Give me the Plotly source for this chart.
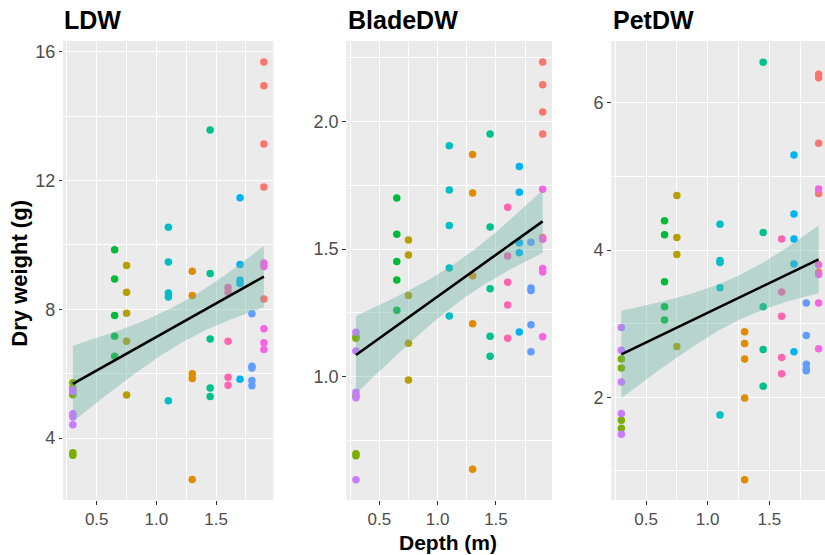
import numpy as np
import plotly.graph_objects as go

# ---------------- data ----------------
panels = ["LDW", "BladeDW", "PetDW"]

group_names = ["g01", "g02", "g03", "g04", "g05", "g06", "g07", "g08", "g09", "g10", "g11", "g12"]
group_depth = [1.9, 1.3, 0.75, 0.3, 0.65, 1.45, 1.1, 1.7, 1.8, 0.3, 1.9, 1.6]
group_colors = ["#F8766D", "#DE8C00", "#B79F00", "#7CAE00", "#00BA38", "#00C08B",
                "#00BFC4", "#00B4F0", "#619CFF", "#C77CFF", "#F564E3", "#FF64B0"]

ldw = [
    [15.68, 14.94, 13.13, 11.80, 8.32],
    [9.18, 8.43, 6.00, 5.85, 2.72],
    [9.36, 8.53, 7.88, 7.01, 5.34],
    [5.72, 5.55, 5.35, 3.55, 3.47],
    [9.85, 8.94, 7.81, 7.16, 6.54],
    [13.57, 9.11, 7.08, 5.56, 5.29],
    [10.55, 9.47, 8.51, 8.38, 5.16],
    [11.46, 9.39, 8.90, 8.80, 5.83],
    [7.86, 6.23, 6.18, 5.79, 5.63],
    [5.50, 5.45, 4.76, 4.66, 4.42],
    [9.44, 9.33, 7.40, 6.96, 6.75],
    [8.68, 8.53, 7.01, 5.89, 5.64],
]
bladedw = [
    [2.234, 2.144, 2.038, 1.951, 1.545],
    [1.871, 1.720, 1.395, 1.207, 0.637],
    [1.536, 1.477, 1.318, 1.131, 0.987],
    [1.157, 1.150, 0.925, 0.697, 0.690],
    [1.700, 1.558, 1.451, 1.379, 1.260],
    [1.951, 1.587, 1.344, 1.158, 1.080],
    [1.905, 1.732, 1.592, 1.426, 1.238],
    [1.824, 1.723, 1.525, 1.486, 1.175],
    [1.527, 1.347, 1.338, 1.203, 1.097],
    [1.174, 1.100, 0.939, 0.917, 0.595],
    [1.735, 1.539, 1.424, 1.410, 1.156],
    [1.664, 1.473, 1.370, 1.281, 1.150],
]
petdw = [
    [6.39, 6.34, 5.45, 4.77, 3.70],
    [2.89, 2.73, 2.52, 1.99, 0.88],
    [4.74, 4.17, 3.94, 2.69],
    [2.52, 2.40, 1.69, 1.58],
    [4.40, 4.21, 3.57, 3.23, 3.05],
    [6.55, 4.24, 3.23, 2.65, 2.15],
    [4.35, 3.86, 3.83, 3.49, 1.76],
    [5.29, 4.49, 4.15, 3.81, 2.62],
    [3.28, 2.84, 2.45, 2.39, 2.36],
    [2.95, 2.64, 2.21, 1.78, 1.50],
    [4.83, 3.80, 3.67, 3.28, 2.66],
    [4.15, 3.43, 3.10, 2.54, 2.32],
]
panel_values = [ldw, bladedw, petdw]

x_ticks = [0.5, 1.0, 1.5]
x_tick_labels = ["0.5", "1.0", "1.5"]
y_ticks = [[4, 8, 12, 16], [1.0, 1.5, 2.0], [2, 4, 6]]
y_tick_labels = [["4", "8", "12", "16"], ["1.0", "1.5", "2.0"], ["2", "4", "6"]]
y_minor = [2, 0.25, 1]

# ---------------- layout constants ----------------
W, H = 825, 555
panel_x_px = [(63.3, 273.3), (346.6, 552.0), (611.5, 825.0)]
px_per_unit = [119.4, 116.7, 123.3]
panel_top_px, panel_bot_px = 41, 500
y_ranges = [[2.08, 16.33], [0.516, 2.316], [0.606, 6.84]]

fig = go.Figure()
font_fam = "Liberation Sans, Arial, sans-serif"
ytick_font = dict(family=font_fam, size=18, color="#4D4D4D")
xtick_font = dict(family=font_fam, size=17, color="#4D4D4D")
ribbon_fill = "rgba(105,179,162,0.40)"

layout_axes = {}
annotations = []
for i, name in enumerate(panels):
    sfx = "" if i == 0 else str(i + 1)
    xa, ya = "x" + sfx, "y" + sfx
    vals = panel_values[i]
    allx, ally = [], []
    for g in range(len(group_names)):
        ys = vals[g]
        xs = [group_depth[g]] * len(ys)
        allx += xs
        ally += ys
        fig.add_trace(go.Scatter(
            x=xs, y=ys, mode="markers", xaxis=xa, yaxis=ya,
            marker=dict(size=7.5, color=group_colors[g], line=dict(width=0)),
            showlegend=False, hoverinfo="skip"))
    # linear fit with 95% CI
    X = np.array(allx, dtype=float)
    Y = np.array(ally, dtype=float)
    n = len(X)
    b1, b0 = np.polyfit(X, Y, 1)
    resid = Y - (b0 + b1 * X)
    s = np.sqrt(np.sum(resid ** 2) / (n - 2))
    xm = X.mean()
    sxx = np.sum((X - xm) ** 2)
    tq = 2.0
    xg = np.linspace(X.min(), X.max(), 80)
    yg = b0 + b1 * xg
    se = s * np.sqrt(1.0 / n + (xg - xm) ** 2 / sxx)
    up, lo = yg + tq * se, yg - tq * se
    fig.add_trace(go.Scatter(
        x=np.concatenate([xg, xg[::-1]]), y=np.concatenate([up, lo[::-1]]),
        mode="lines", fill="toself", fillcolor=ribbon_fill, line=dict(width=0),
        xaxis=xa, yaxis=ya, showlegend=False, hoverinfo="skip"))
    fig.add_trace(go.Scatter(
        x=xg, y=yg, mode="lines", line=dict(color="black", width=2.6),
        xaxis=xa, yaxis=ya, showlegend=False, hoverinfo="skip"))

    x0p, x1p = panel_x_px[i]
    xr0 = 0.22
    xr1 = xr0 + (x1p - x0p) / px_per_unit[i]
    ydom = [(H - panel_bot_px) / H, (H - panel_top_px) / H]
    layout_axes["xaxis" + sfx] = dict(
        domain=[x0p / W, x1p / W], range=[xr0, xr1], anchor=ya,
        tickvals=x_ticks, ticktext=x_tick_labels, ticks="outside", ticklen=3.5,
        tickcolor="#333333", tickwidth=1.1, tickfont=xtick_font,
        showgrid=True, gridcolor="white", gridwidth=1.2, zeroline=False,
        showline=False,
        minor=dict(tickvals=[0.25, 0.75, 1.25, 1.75], showgrid=True, gridcolor="white", gridwidth=0.6, ticks=""))
    ymin_vals = []
    v = 0.0
    while v <= y_ranges[i][1] + 1e-9:
        if all(abs(v - t) > 1e-9 for t in y_ticks[i]):
            ymin_vals.append(round(v, 4))
        v += y_minor[i]
    layout_axes["yaxis" + sfx] = dict(
        domain=ydom, range=y_ranges[i], anchor=xa,
        tickvals=y_ticks[i], ticktext=y_tick_labels[i], ticks="outside", ticklen=3.5,
        tickcolor="#333333", tickwidth=1.1, tickfont=ytick_font,
        showgrid=True, gridcolor="white", gridwidth=1.2, zeroline=False,
        showline=False,
        minor=dict(tickvals=ymin_vals, showgrid=True, gridcolor="white", gridwidth=0.6, ticks=""))
    annotations.append(dict(
        text="<b>%s</b>" % name, x=(x0p - 1) / W, y=(H - 20) / H, xref="paper", yref="paper",
        xanchor="left", yanchor="middle", showarrow=False,
        font=dict(family=font_fam, size=25, color="black")))

annotations.append(dict(
    text="<b>Dry weight (g)</b>", x=18.7 / W, y=(H - 273) / H, xref="paper", yref="paper",
    xanchor="center", yanchor="middle", textangle=-90, showarrow=False,
    font=dict(family=font_fam, size=22, color="black")))
annotations.append(dict(
    text="<b>Depth (m)</b>", x=448 / W, y=(H - 542) / H, xref="paper", yref="paper",
    xanchor="center", yanchor="middle", showarrow=False,
    font=dict(family=font_fam, size=21, color="black")))

# panel backgrounds
shapes = []
for i in range(3):
    x0p, x1p = panel_x_px[i]
    shapes.append(dict(type="rect", xref="paper", yref="paper", layer="below",
                       x0=x0p / W, x1=x1p / W,
                       y0=(H - panel_bot_px) / H, y1=(H - panel_top_px) / H,
                       fillcolor="#EBEBEB", line=dict(width=0)))

fig.update_layout(
    width=W, height=H, margin=dict(l=0, r=0, t=0, b=0),
    paper_bgcolor="white", plot_bgcolor="#EBEBEB",
    annotations=annotations, shapes=shapes, showlegend=False,
    **layout_axes)

fig.write_html("out.html")
